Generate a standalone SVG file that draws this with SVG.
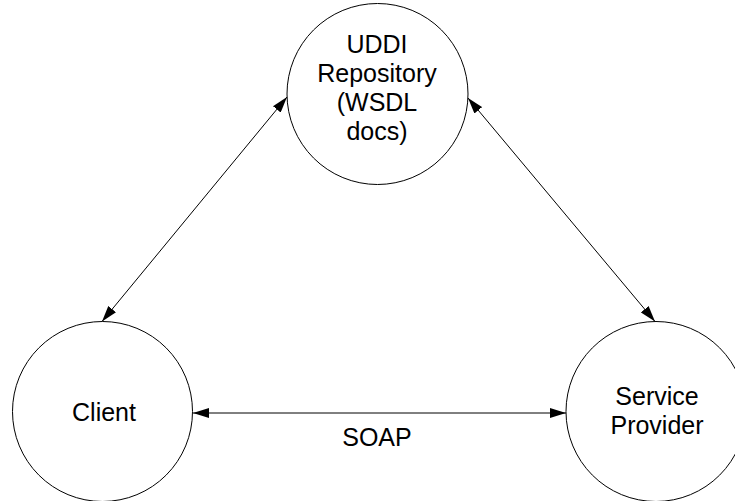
<svg xmlns="http://www.w3.org/2000/svg" width="735" height="501" viewBox="0 0 735 501">
<style>
.node circle{fill:#fff;stroke:#000;stroke-width:1}
.lbl{font-family:"Liberation Sans",Arial,sans-serif;font-size:25px;fill:#000;text-anchor:middle}
.edge{stroke:#000;stroke-width:1;fill:none;marker-start:url(#ah);marker-end:url(#ah)}
</style>
<defs>
<marker id="ah" viewBox="0 0 16 10" refX="16" refY="5" markerWidth="16" markerHeight="10" markerUnits="userSpaceOnUse" orient="auto-start-reverse">
<path d="M0,0 L16,5 L0,10 Z" fill="#000"/>
</marker>
</defs>
<rect width="735" height="501" fill="#fff"/>
<g id="uddi" class="node">
<circle cx="377.5" cy="94" r="90.5"/>
<text class="lbl" x="377" y="53">UDDI</text>
<text class="lbl" x="377" y="82">Repository</text>
<text class="lbl" x="377" y="111">(WSDL</text>
<text class="lbl" x="377" y="140">docs)</text>
</g>
<g id="client" class="node">
<circle cx="102.5" cy="411.5" r="90"/>
<text class="lbl" x="104" y="421">Client</text>
</g>
<g id="provider" class="node">
<circle cx="656" cy="411.5" r="90"/>
<text class="lbl" x="657" y="405">Service</text>
<text class="lbl" x="657" y="434">Provider</text>
</g>
<g id="connectors">
<line class="edge" x1="287" y1="97" x2="102" y2="321.5"/>
<line class="edge" x1="468" y1="98" x2="655" y2="321.5"/>
<line class="edge" x1="193" y1="413" x2="566" y2="413"/>
<text class="lbl" x="377" y="446">SOAP</text>
</g>
</svg>
